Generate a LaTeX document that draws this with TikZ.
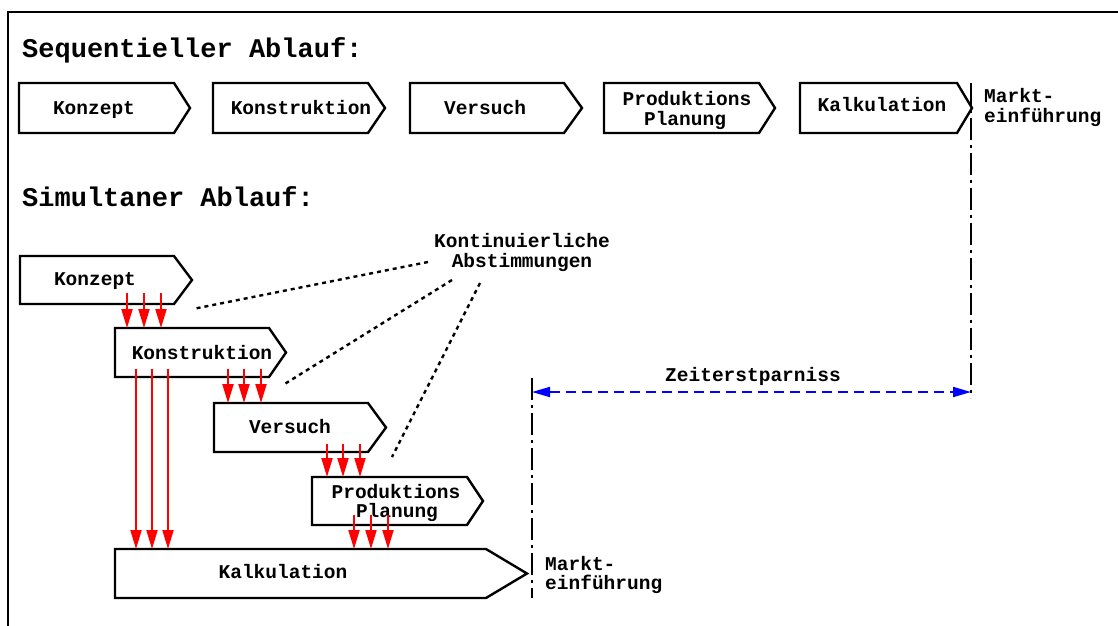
\documentclass[tikz,border=0pt]{standalone}
\usepackage{fontspec}
\setmainfont{Liberation Mono}
\usetikzlibrary{arrows.meta,calc}
\newcommand\procbox[6]{%
  \node[rect, minimum width=#4pt, minimum height=#5pt, anchor=north west] (#1) at (#2,#3) {};
  \draw[boxline] (#1.north west) -- (#1.north east) -- ([xshift=#6pt]#1.east) -- (#1.south east) -- (#1.south west) -- cycle;}
\newcommand\redarr[4]{%
  \draw[redarrow] ($(#1,0 |- #2.south)+(0,-#4)$) -- (#1,0 |- #3.north);}
\begin{document}
\begin{tikzpicture}[x=1pt,y=-1pt,
  rect/.style={draw=none,inner sep=0pt,outer sep=0pt},
  boxline/.style={draw=black,line width=2.4pt,line join=miter},
  txt/.style={inner sep=0pt,anchor=base,font=\fontsize{19.5}{20}\selectfont\bfseries},
  txtw/.style={inner sep=0pt,anchor=base west,font=\fontsize{19.5}{20}\selectfont\bfseries},
  head/.style={inner sep=0pt,anchor=base west,font=\fontsize{27}{30}\selectfont\bfseries},
  redarrow/.style={draw=red,line width=2pt,-{Triangle[length=19pt,width=11pt]}},
  dotline/.style={draw=black,line width=2.4pt,dash pattern=on 4pt off 4pt},
  dashdotline/.style={draw=black,line width=2pt,dash pattern=on 22pt off 5pt on 3pt off 5pt},
  bluearrow/.style={draw=blue,line width=2pt,dash pattern=on 10pt off 6pt,{Triangle[length=18pt,width=10pt]}-{Triangle[length=18pt,width=10pt]}}]
\useasboundingbox (0,0) rectangle (1118,625);
\fill[white] (0,0) rectangle (1118,625);
% frame
\draw[line width=2.6pt] (8,640) -- (8,12) -- (1130,12);

% headings
\node[head] (h1) at (22,57) {Sequentieller Ablauf:};
\node[head] (h2) at (22,206) {Simultaner Ablauf:};

% sequential row
\procbox{s1}{19}{83}{155}{50}{16}
\procbox{s2}{213}{83}{155}{50}{17}
\procbox{s3}{410}{83}{154}{50}{18}
\procbox{s4}{604}{83}{155}{50}{16}
\procbox{s5}{800}{83}{157}{50}{15}
\node[txt] (t1) at (94,114) {Konzept};
\node[txt] (t2) at (301,114) {Konstruktion};
\node[txt] (t3) at (485,114) {Versuch};
\node[txt] (t4a) at (687,105) {Produktions};
\node[txt] (t4b) at (685,125) {Planung};
\node[txt] (t5) at (882,111) {Kalkulation};
\node[txtw] (m1a) at (984,102) {Markt-};
\node[txtw] (m1b) at (984,122) {einführung};

% simultaneous
\procbox{p1}{20}{256}{154}{48}{18}
\procbox{p2}{115}{328}{154}{49}{17}
\procbox{p3}{214}{403}{154}{49}{18}
\procbox{p4}{312}{477}{155}{48}{16}
\procbox{p5}{115}{549}{371}{49}{41}
\node[txt] (u1) at (95,285) {Konzept};
\node[txt] (u2) at (202,359) {Konstruktion};
\node[txt] (u3) at (290,433) {Versuch};
\node[txt] (u4a) at (396,498) {Produktions};
\node[txt] (u4b) at (397,517) {Planung};
\node[txt] (u5) at (283,578) {Kalkulation};
\node[txtw] (m2a) at (545,570) {Markt-};
\node[txtw] (m2b) at (545,589) {einführung};

% red arrows
\redarr{127}{p1}{p2}{11}
\redarr{144}{p1}{p2}{11}
\redarr{161}{p1}{p2}{11}
\redarr{228}{p2}{p3}{8}
\redarr{244}{p2}{p3}{8}
\redarr{261}{p2}{p3}{8}
\redarr{136}{p2}{p5}{8}
\redarr{152}{p2}{p5}{8}
\redarr{168}{p2}{p5}{8}
\redarr{327}{p3}{p4}{8}
\redarr{343}{p3}{p4}{8}
\redarr{360}{p3}{p4}{8}
\redarr{354}{p4}{p5}{10}
\redarr{371}{p4}{p5}{10}
\redarr{388}{p4}{p5}{10}

% label and dotted lines
\node[txt] (k1) at (522,247) {Kontinuierliche};
\node[txt] (k2) at (522,267) {Abstimmungen};
\coordinate (d1) at (428,262);
\coordinate (d2) at (452,280);
\coordinate (d3) at (480,283);
\coordinate (e1) at (193,309);
\coordinate (e2) at (283,385);
\coordinate (e3) at (392,457);
\draw[dotline] (d1) -- (e1);
\draw[dotline] (d2) -- (e2);
\draw[dotline] (d3) -- (e3);

% market lines and time saving
\coordinate (v1t) at (971,83);
\coordinate (v1b) at (971,398);
\coordinate (v2t) at (532,378);
\coordinate (v2b) at (532,598);
\draw[dashdotline] (v1t) -- (v1b);
\draw[dashdotline] (v2t) -- (v2b);
\coordinate (z1) at (532,392);
\coordinate (z2) at (971,392);
\draw[bluearrow] (z1) -- (z2);
\node[txt] (zt) at (753,381) {Zeiterstparniss};
\end{tikzpicture}
\end{document}
